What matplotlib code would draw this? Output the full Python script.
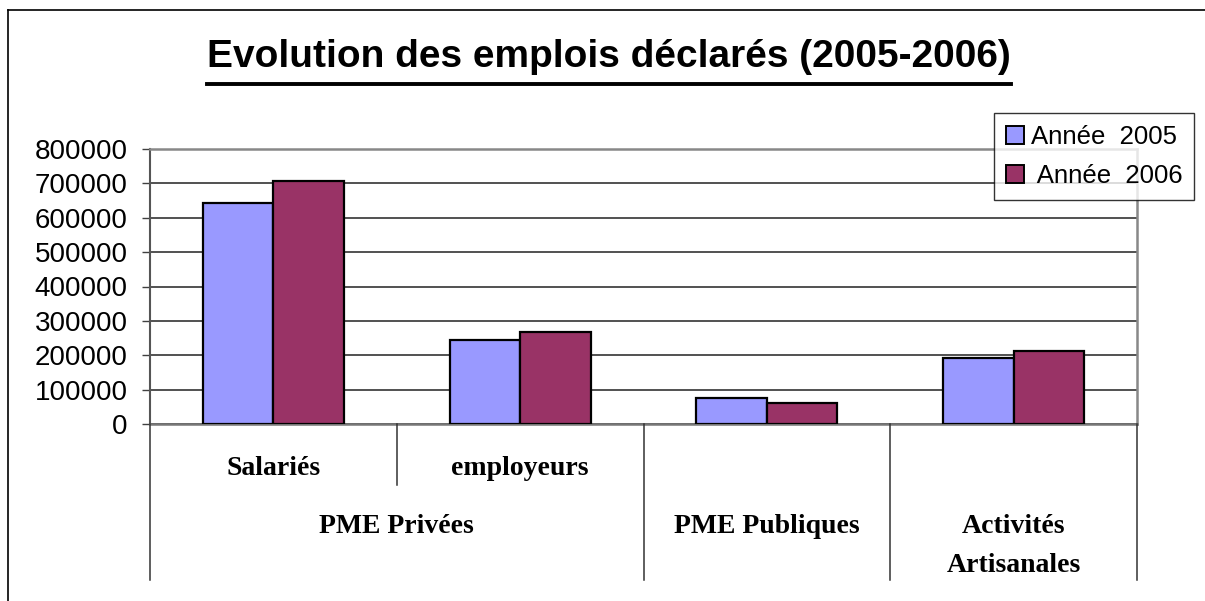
import matplotlib
matplotlib.use("Agg")
import matplotlib.pyplot as plt
from matplotlib.lines import Line2D
from matplotlib.patches import Patch
from matplotlib.transforms import blended_transform_factory
import numpy as np

# ---------------- data ----------------
title = "Evolution des emplois déclarés (2005-2006)"
sub_labels = ["Salariés", "employeurs", "", ""]
group_labels = ["PME Privées", "PME Publiques", "Activités\nArtisanales"]
group_sizes = [2, 1, 1]
series_names = ["Année  2005", " Année  2006"]
values_2005 = [643000, 244000, 74500, 191000]
values_2006 = [707000, 269000, 60000, 211000]
yticks = [0, 100000, 200000, 300000, 400000, 500000, 600000, 700000, 800000]

# ---------------- figure ----------------
W, H = 1205, 601
fig = plt.figure(figsize=(W / 100, H / 100), dpi=100)
fig.patch.set_facecolor("white")

def fx(x):
    return x / W

def fy(y):
    return 1 - y / H

ax_l, ax_r, ax_t, ax_b = 150, 1137, 149, 424
ax = fig.add_axes([fx(ax_l), fy(ax_b), (ax_r - ax_l) / W, (ax_b - ax_t) / H])

n = len(values_2005)
x = np.arange(n)
bw = 1 / 3.5
c2005 = "#9999FF"
c2006 = "#993366"
ax.bar(x - bw / 2, values_2005, width=bw, color=c2005, edgecolor="black", linewidth=1.6, zorder=3)
ax.bar(x + bw / 2, values_2006, width=bw, color=c2006, edgecolor="black", linewidth=1.6, zorder=3)

ax.set_xlim(-0.5, n - 0.5)
ax.set_ylim(0, 800000)
ax.set_yticks(yticks)
ax.set_yticklabels([str(v) for v in yticks], fontsize=20, family="Liberation Sans")
ax.tick_params(axis="y", direction="out", length=6, width=1, color="#404040", pad=10)
ax.set_xticks([])
ax.yaxis.grid(True, color="#222222", linewidth=1.1, zorder=0)
ax.set_axisbelow(True)
for side in ["top", "right"]:
    ax.spines[side].set_color("#888888")
    ax.spines[side].set_linewidth(1.8)
ax.spines["left"].set_color("#555555")
ax.spines["left"].set_linewidth(1.5)
ax.spines["bottom"].set_color("#777777")
ax.spines["bottom"].set_linewidth(1.8)

# ---------------- hierarchical x labels ----------------
trans = blended_transform_factory(ax.transData, fig.transFigure)
serif = "Liberation Serif"
for i, lab in enumerate(sub_labels):
    if lab:
        ax.text(i, fy(475), lab, transform=trans, ha="center", va="baseline",
                fontsize=20, fontweight="bold", family=serif)

start = 0
for gl, gs in zip(group_labels, group_sizes):
    for k in range(1, gs):
        xb = start + k - 0.5
        fig.add_artist(Line2D([xb, xb], [fy(ax_b), fy(485)], transform=trans,
                              color="#333333", linewidth=1.1, clip_on=False))
    center = start + (gs - 1) / 2
    for j, line in enumerate(gl.split("\n")):
        ax.text(center, fy(533 + 39 * j), line, transform=trans, ha="center",
                va="baseline", fontsize=20, fontweight="bold", family=serif)
    start += gs

bounds = np.concatenate([[-0.5], np.cumsum(group_sizes) - 0.5])
for xb in bounds:
    fig.add_artist(Line2D([xb, xb], [fy(ax_b), fy(580)], transform=trans,
                          color="#333333", linewidth=1.1, clip_on=False))

# ---------------- legend ----------------
handles = [Patch(facecolor=c2005, edgecolor="black", linewidth=1.4),
           Patch(facecolor=c2006, edgecolor="black", linewidth=1.4)]
leg = fig.legend(handles, series_names, loc="upper left",
                 bbox_to_anchor=(fx(994), fy(113)), bbox_transform=fig.transFigure,
                 prop={"family": "Liberation Sans", "size": 18.5},
                 frameon=True, fancybox=False, shadow=False, borderaxespad=0,
                 handlelength=0.7, handleheight=0.7, handletextpad=0.3,
                 labelspacing=0.6, borderpad=0.45)
leg.get_frame().set_edgecolor("black")
leg.get_frame().set_linewidth(1.0)

# ---------------- title with underline ----------------
t = fig.text(fx(609), fy(67), title, ha="center", va="baseline", fontsize=28,
             fontweight="bold", family="Liberation Sans")
fig.canvas.draw()
bb = t.get_window_extent(renderer=fig.canvas.get_renderer())
fig.add_artist(Line2D([bb.x0 / W, bb.x1 / W], [fy(84), fy(84)], transform=fig.transFigure,
                      color="black", linewidth=2.8))

# ---------------- outer frame (partial) ----------------
fig.add_artist(Line2D([fx(8), fx(8)], [fy(10), 0], transform=fig.transFigure,
                      color="black", linewidth=1.2))
fig.add_artist(Line2D([fx(8), 1], [fy(10), fy(10)], transform=fig.transFigure,
                      color="black", linewidth=1.2))

fig.savefig("out.png", dpi=100, facecolor="white")
